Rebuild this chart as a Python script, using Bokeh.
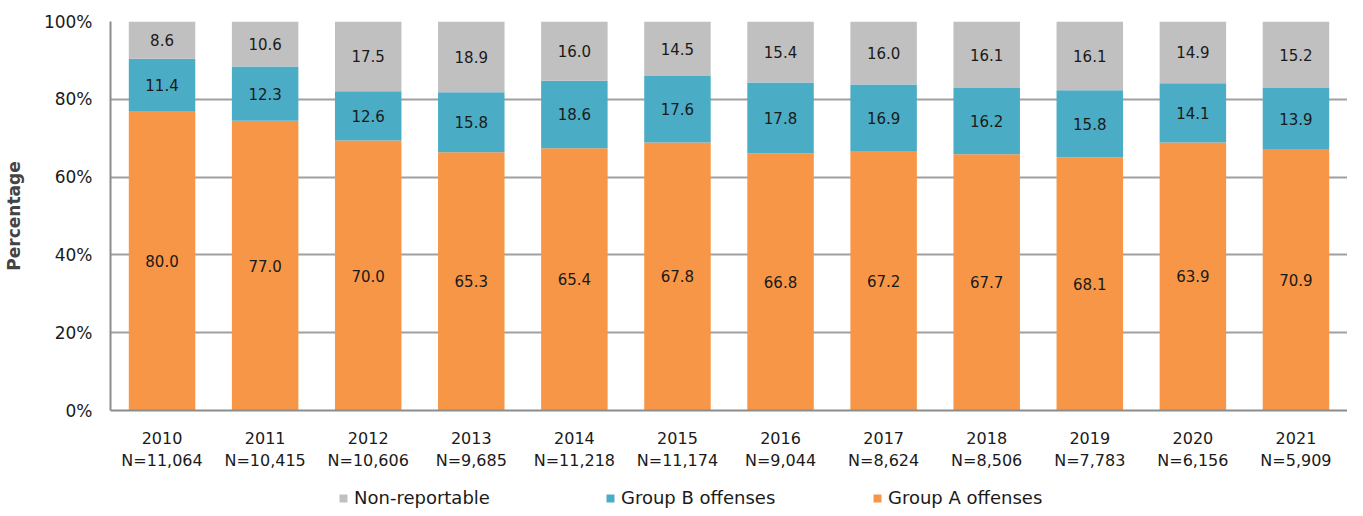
from bokeh.plotting import figure
from bokeh.layouts import column
from bokeh.models import ColumnDataSource, Legend, LegendItem, FixedTicker, LabelSet, CustomJSTickFormatter
from bokeh.core.properties import value
from bokeh.embed import file_html
from bokeh.resources import INLINE

years = ["2010", "2011", "2012", "2013", "2014", "2015", "2016", "2017", "2018", "2019", "2020", "2021"]
n_labels = ["N=11,064", "N=10,415", "N=10,606", "N=9,685", "N=11,218", "N=11,174",
            "N=9,044", "N=8,624", "N=8,506", "N=7,783", "N=6,156", "N=5,909"]

# bar segment heights as drawn (percent)
group_a = [77.0, 74.5, 69.4, 66.4, 67.4, 68.9, 66.1, 66.7, 65.9, 65.1, 68.9, 67.2]
group_b = [13.4, 13.9, 12.7, 15.4, 17.4, 17.1, 18.2, 17.1, 17.0, 17.2, 15.2, 15.7]
non_rep = [9.6, 11.6, 17.9, 18.2, 15.2, 14.0, 15.7, 16.2, 17.1, 17.7, 15.9, 17.1]

# printed data labels
lab_a = ["80.0", "77.0", "70.0", "65.3", "65.4", "67.8", "66.8", "67.2", "67.7", "68.1", "63.9", "70.9"]
lab_b = ["11.4", "12.3", "12.6", "15.8", "18.6", "17.6", "17.8", "16.9", "16.2", "15.8", "14.1", "13.9"]
lab_n = ["8.6", "10.6", "17.5", "18.9", "16.0", "14.5", "15.4", "16.0", "16.1", "16.1", "14.9", "15.2"]

series_names = ["Group A offenses", "Group B offenses", "Non-reportable"]

cats = [f"{y}\n{n}" for y, n in zip(years, n_labels)]

C_A = "#F79646"
C_B = "#4BACC6"
C_N = "#C0C0C0"
FONT = "DejaVu Sans"

src = ColumnDataSource(dict(
    x=cats, a=group_a, b=group_b, n=non_rep,
    ya=[v / 2 for v in group_a],
    yb=[a + b / 2 for a, b in zip(group_a, group_b)],
    yn=[a + b + n / 2 for a, b, n in zip(group_a, group_b, non_rep)],
    la=lab_a, lb=lab_b, ln=lab_n,
))

p = figure(x_range=cats, y_range=(0, 100), width=1347, height=473,
           output_backend="svg", toolbar_location=None,
           min_border_left=105, min_border_right=0, min_border_top=21, min_border_bottom=60)
p.outline_line_color = None

rs = p.vbar_stack(["a", "b", "n"], x="x", width=0.645, source=src,
                  color=[C_A, C_B, C_N], line_color=None)

for col, ycol in (("la", "ya"), ("lb", "yb"), ("ln", "yn")):
    p.add_layout(LabelSet(x="x", y=ycol, text=col, source=src, text_align="center",
                          text_baseline="middle", text_font=value(FONT), text_font_size=value("15px"),
                          text_color="#1a1a1a"))

p.yaxis.ticker = FixedTicker(ticks=[0, 20, 40, 60, 80, 100])
p.yaxis.formatter = CustomJSTickFormatter(code="return tick + '%';")
p.yaxis.axis_label = "Percentage"
p.yaxis.axis_label_text_font = FONT
p.yaxis.axis_label_text_font_style = "bold"
p.yaxis.axis_label_text_font_size = "17px"
p.yaxis.axis_label_standoff = 17
for ax in (p.xaxis[0], p.yaxis[0]):
    ax.major_label_text_font = FONT
    ax.major_label_text_font_size = "16px"
    ax.major_label_text_color = "#1a1a1a"
    ax.major_tick_line_color = None
    ax.minor_tick_line_color = None
    ax.axis_line_color = "#8c8c8c"
    ax.axis_line_width = 2
p.yaxis.major_label_text_font_size = "17px"
p.yaxis.major_label_standoff = 12
p.xaxis.major_label_standoff = 12

p.xgrid.grid_line_color = None
p.ygrid.grid_line_color = "#a0a0a0"
p.ygrid.grid_line_width = 2

# legend strip: same stacked series, view range set away from the bars so only the legend shows
p2 = figure(x_range=cats, y_range=(1000, 1001), width=1347, height=35,
            output_backend="svg", toolbar_location=None,
            x_axis_type=None, y_axis_type=None,
            min_border_left=0, min_border_right=0, min_border_top=0, min_border_bottom=0)
p2.outline_line_color = None
p2.xgrid.grid_line_color = None
p2.ygrid.grid_line_color = None
rs2 = p2.vbar_stack(["a", "b", "n"], x="x", width=0.645, source=src,
                    color=[C_A, C_B, C_N], line_color=None)

legend = Legend(items=[LegendItem(label=series_names[2], renderers=[rs2[2]]),
                       LegendItem(label=series_names[1], renderers=[rs2[1]]),
                       LegendItem(label=series_names[0], renderers=[rs2[0]])],
                orientation="horizontal", location=(228, 0),
                border_line_color=None, background_fill_alpha=0,
                label_text_font=FONT, label_text_font_size="18px", label_text_color="#1a1a1a",
                glyph_width=10, glyph_height=10, spacing=5, label_standoff=6,
                label_width=246, padding=0, margin=0)
p2.add_layout(legend)

layout = column(p, p2, spacing=0)
open("out.html", "w").write(file_html(layout, INLINE))
